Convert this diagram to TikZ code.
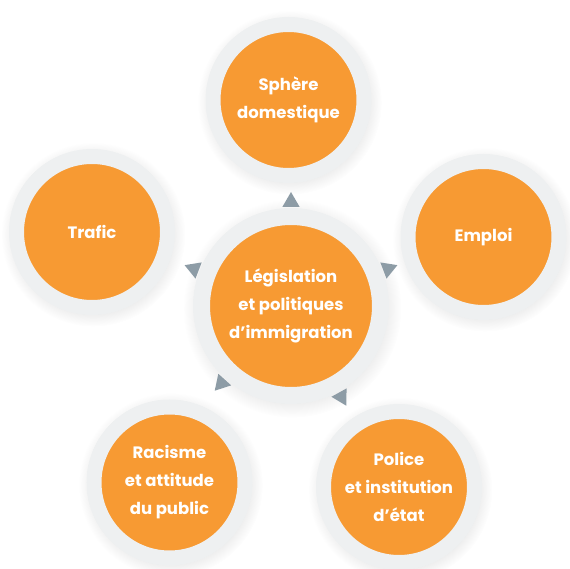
\documentclass[tikz,border=0pt]{standalone}
\usepackage{fontspec}
\setsansfont{Poppins}
\usetikzlibrary{positioning,shapes.geometric,shadows}
\definecolor{orangefill}{HTML}{F79A33}
\definecolor{ringgray}{HTML}{EEF0F1}
\definecolor{pointergray}{HTML}{8D9CA6}
\tikzstyle{theme} = [circle, fill=orangefill, draw=ringgray, line width=15pt, minimum size=151pt, inner sep=0pt, align=center, text=white, font=\sffamily\bfseries\fontsize{16.5}{28}\selectfont, circular drop shadow={shadow scale=1.22, shadow xshift=1pt, shadow yshift=-2pt, fill=black, opacity=0.07}]
\tikzstyle{core} = [theme, minimum size=179pt, line width=17pt]
\tikzstyle{pointer} = [regular polygon, regular polygon sides=3, fill=pointergray, minimum size=20pt, inner sep=0pt]

\begin{document}
\begin{tikzpicture}[x=1pt,y=1pt]
  \useasboundingbox (0,0) rectangle (570,568);
  % themes around the centre
  \node[theme] (sphere) at (288.5,468) {Sphère\\domestique};
  \node[theme] (trafic) at (92,336) {Trafic};
  \node[theme] (emploi) at (483.5,331) {Emploi};
  \node[theme] (racisme) at (169.5,85.5) {Racisme\\et attitude\\du public};
  \node[theme] (police) at (399,81) {Police\\et institution\\d’état};
  % centre
  \node[core] (legislation) at (291,262) {Législation\\et politiques\\d’immigration};
  % pointers
  \foreach \ang/\name in {90/sphere,159/trafic,21/emploi,228/racisme,299/police}
    \path (legislation) ++(\ang:104) node[pointer, rotate=\ang-90] (to-\name) {};
\end{tikzpicture}
\end{document}
